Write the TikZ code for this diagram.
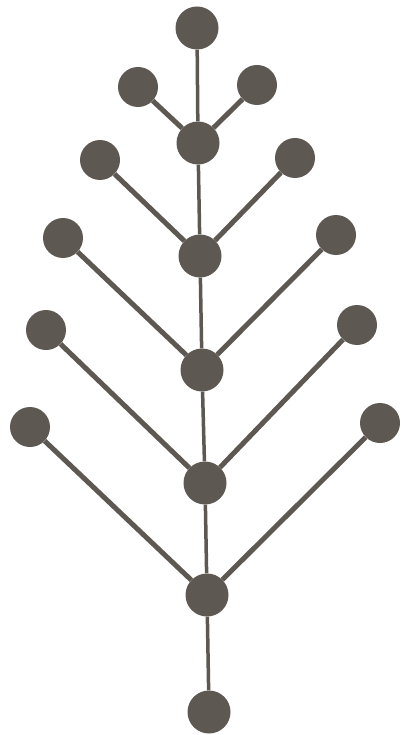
\documentclass[tikz,border=0pt]{standalone}
\usepackage{xcolor}
\usepackage{tikz}
\usetikzlibrary{positioning}
\definecolor{bead}{RGB}{94,88,82}

\begin{document}
\begin{tikzpicture}[
  x=1pt, y=-1pt,
  spine/.style={circle, fill=bead, inner sep=0pt, minimum size=43pt},
  leaf/.style={circle, fill=bead, inner sep=0pt, minimum size=40pt},
  stem/.style={draw=bead, line width=3.5pt},
  twig/.style={draw=bead, line width=5pt}
]
  \useasboundingbox (0,0) rectangle (402,735);
  % spine
  \node[spine] (s0) at (197,28) {};
  \node[spine] (s1) at (198,143) {};
  \node[spine] (s2) at (200,256) {};
  \node[spine] (s3) at (202,370) {};
  \node[spine] (s4) at (205,483) {};
  \node[spine] (s5) at (207,595) {};
  \node[spine] (s6) at (209,712) {};
  % leaves
  \node[leaf] (l1) at (138,87) {};
  \node[leaf] (r1) at (257,85) {};
  \node[leaf] (l2) at (100,160) {};
  \node[leaf] (r2) at (295,158) {};
  \node[leaf] (l3) at (63,238) {};
  \node[leaf] (r3) at (336,235) {};
  \node[leaf] (l4) at (46,330) {};
  \node[leaf] (r4) at (357,325) {};
  \node[leaf] (l5) at (30,427) {};
  \node[leaf] (r5) at (380,423) {};
  \draw[stem] (s0) -- (s1);
  \draw[stem] (s1) -- (s2);
  \draw[stem] (s2) -- (s3);
  \draw[stem] (s3) -- (s4);
  \draw[stem] (s4) -- (s5);
  \draw[stem] (s5) -- (s6);
  \draw[twig] (l1) -- (s1);
  \draw[twig] (r1) -- (s1);
  \draw[twig] (l2) -- (s2);
  \draw[twig] (r2) -- (s2);
  \draw[twig] (l3) -- (s3);
  \draw[twig] (r3) -- (s3);
  \draw[twig] (l4) -- (s4);
  \draw[twig] (r4) -- (s4);
  \draw[twig] (l5) -- (s5);
  \draw[twig] (r5) -- (s5);
\end{tikzpicture}
\end{document}
